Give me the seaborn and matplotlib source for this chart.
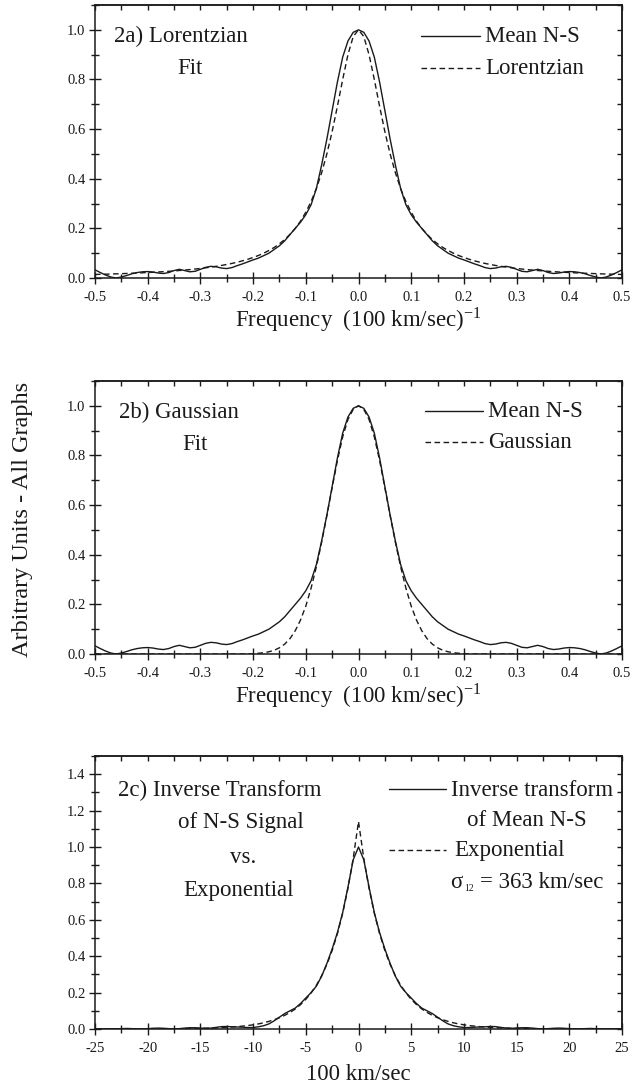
import numpy as np
import pandas as pd
import seaborn as sns
import matplotlib.pyplot as plt
from matplotlib.ticker import MultipleLocator, FormatStrFormatter

# ---- data (half curves, x >= 0; the spectra are symmetric about 0) ----
freq_half = np.round(np.arange(0, 0.51, 0.01), 2)

mean_ns = [1.0, .99, .955, .89, .79, .675, .56, .455, .36, .295, .255,
           .225, .20, .175, .15, .13, .115, .10, .09, .08, .073,
           .065, .057, .05, .042, .038, .04, .045, .047, .043, .035,
           .027, .025, .03, .035, .03, .022, .018, .02, .024, .026,
           .025, .022, .017, .01, .004, .0, .004, .012, .022, .033]

lorentzian = [1.0, .973, .900, .800, .692, .590, .500, .424, .360, .308, .265,
              .229, .200, .176, .155, .138, .123, .111, .100, .0907, .0826,
              .0755, .0692, .0637, .0588, .0545, .0506, .0471, .0439, .0411, .0385,
              .0361, .0340, .0320, .0302, .0285, .0270, .0256, .0243, .0231, .0220,
              .0210, .0200, .0191, .0183, .0175, .0167, .0160, .0154, .0148, .0142]

gaussian = [1.0, .986, .945, .875, .78, .67, .558, .45, .351, .265, .193,
            .137, .094, .062, .040, .025, .015, .009, .005, .003, .001,
            0, 0, 0, 0, 0, 0, 0, 0, 0, 0,
            0, 0, 0, 0, 0, 0, 0, 0, 0, 0,
            0, 0, 0, 0, 0, 0, 0, 0, 0, 0]

vel_half = np.arange(0, 25.5, 0.5)

inverse_ns = [1.0, .93, .78, .64, .53, .44, .36, .29, .235, .20, .17,
              .14, .115, .10, .085, .065, .045, .028, .018, .012, .008,
              .008, .010, .011, .012, .014, .013, .009, .005, .004, .005,
              .007, .007, .005, .002, .001, .002, .004, .005, .004, .002,
              .001, .001, .002, .003, .002, .001, .001, .001, .001, .001]

exponential = [1.14, .938, .773, .636, .524, .431, .355, .292, .240, .198, .163,
               .134, .110, .091, .075, .062, .051, .042, .034, .028, .023,
               .019, .016, .013, .011, .0088, .0072, .0059, .0049, .0040, .0033,
               .0027, .0022, .0018, .0015, .0012, .0010, .0008, .0007, .0005, .0005,
               .0004, .0003, .0003, .0002, .0002, .0002, .0001, .0001, .0001, .0001]


def mirror_x(h):
    h = np.asarray(h, dtype=float)
    return np.concatenate([-h[::-1], h[1:]])


def mirror_y(h):
    h = np.asarray(h, dtype=float)
    return np.concatenate([h[::-1], h[1:]])


sns.set_theme(style="ticks")
plt.rcParams['font.family'] = ['Liberation Serif', 'DejaVu Serif']
plt.rcParams['mathtext.fontset'] = 'stix'

W, H = 632, 1091
fig = plt.figure(figsize=(W / 100, H / 100), dpi=100)

DASH = (0, (4, 2.5))
TXT = 16.5
LW = 1.0


def panel(top_px):
    return fig.add_axes([95 / W, 1 - (top_px + 273) / H, 527 / W, 273 / H])


def style(ax, xlim, xmaj, xmin_, ylim, xfmt):
    ax.set_xlim(*xlim)
    ax.set_ylim(*ylim)
    ax.xaxis.set_major_locator(MultipleLocator(xmaj))
    ax.xaxis.set_minor_locator(MultipleLocator(xmin_))
    ax.yaxis.set_major_locator(MultipleLocator(0.2))
    ax.yaxis.set_minor_locator(MultipleLocator(0.1))
    ax.xaxis.set_major_formatter(FormatStrFormatter(xfmt))
    ax.yaxis.set_major_formatter(FormatStrFormatter('%.1f'))
    ax.tick_params(which='major', direction='inout', length=9, width=1.0,
                   labelsize=10.5, color='k', labelcolor='k')
    ax.tick_params(which='minor', direction='inout', length=5.5, width=1.0, color='k')
    ax.tick_params(axis='x', pad=5)
    ax.tick_params(axis='y', pad=2.5)
    for s in ax.spines.values():
        s.set_visible(True)
        s.set_linewidth(1.1)
        s.set_color('k')
    # top / right ticks point inward only
    secx = ax.secondary_xaxis('top')
    secx.xaxis.set_major_locator(MultipleLocator(xmin_))
    secx.tick_params(which='both', direction='in', length=3.5, width=1.0,
                     labeltop=False, labelbottom=False, color='k')
    secx.spines['top'].set_linewidth(1.1)
    secy = ax.secondary_yaxis('right')
    secy.yaxis.set_major_locator(MultipleLocator(0.1))
    secy.tick_params(which='both', direction='in', length=3.5, width=1.0,
                     labelright=False, labelleft=False, color='k')
    secy.spines['right'].set_linewidth(1.1)


def legend_line(ax, x0, x1, y, ls):
    ax.plot([x0, x1], [y, y], transform=ax.transAxes, color='k', lw=LW, ls=ls,
            clip_on=False)


def txt(ax, x, y, s, ha='left', size=TXT):
    ax.text(x, y, s, transform=ax.transAxes, ha=ha, va='center', fontsize=size, color='k')


freq_x = mirror_x(freq_half)
vel_x = mirror_x(vel_half)
FREQ_LABEL = r'Frequency  (100 km/sec)$^{\mathregular{-1}}$'

# ---- 2a ----
ax1 = panel(5)
sns.lineplot(x=freq_x, y=mirror_y(mean_ns), ax=ax1, color='k', lw=LW, sort=False)
sns.lineplot(x=freq_x, y=mirror_y(lorentzian), ax=ax1, color='k', lw=LW, ls=DASH, sort=False)
style(ax1, (-0.5, 0.5), 0.1, 0.05, (0, 1.1), '%.1f')
txt(ax1, 0.036, 0.883, '2a) Lorentzian')
txt(ax1, 0.180, 0.769, 'Fit', ha='center')
legend_line(ax1, 0.619, 0.731, 0.886, '-')
txt(ax1, 0.740, 0.883, 'Mean N-S')
legend_line(ax1, 0.619, 0.731, 0.770, DASH)
txt(ax1, 0.740, 0.767, 'Lorentzian')
ax1.set_xlabel(FREQ_LABEL, fontsize=TXT, color='k')
ax1.xaxis.set_label_coords(0.5, -0.154)
ax1.xaxis.label.set_va('center')
ax1.set_ylabel('')

# ---- 2b ----
ax2 = panel(381)
sns.lineplot(x=freq_x, y=mirror_y(mean_ns), ax=ax2, color='k', lw=LW, sort=False)
sns.lineplot(x=freq_x, y=mirror_y(gaussian), ax=ax2, color='k', lw=LW, ls=DASH, sort=False)
style(ax2, (-0.5, 0.5), 0.1, 0.05, (0, 1.1), '%.1f')
txt(ax2, 0.045, 0.886, '2b) Gaussian')
txt(ax2, 0.190, 0.769, 'Fit', ha='center')
legend_line(ax2, 0.626, 0.736, 0.89, '-')
txt(ax2, 0.746, 0.887, 'Mean N-S')
legend_line(ax2, 0.626, 0.736, 0.777, DASH)
txt(ax2, 0.746, 0.774, 'Gaussian')
ax2.set_xlabel(FREQ_LABEL, fontsize=TXT, color='k')
ax2.xaxis.set_label_coords(0.5, -0.154)
ax2.xaxis.label.set_va('center')
ax2.set_ylabel('Arbitrary Units - All Graphs', fontsize=17.5, color='k')
ax2.yaxis.set_label_coords(-0.1385, 0.4945)
ax2.yaxis.label.set_va('center')

# ---- 2c ----
ax3 = panel(756)
sns.lineplot(x=vel_x, y=mirror_y(inverse_ns), ax=ax3, color='k', lw=LW, sort=False)
sns.lineplot(x=vel_x, y=mirror_y(exponential), ax=ax3, color='k', lw=LW, ls=DASH, sort=False)
style(ax3, (-25, 25), 5, 2.5, (0, 1.5), '%d')
txt(ax3, 0.044, 0.875, '2c) Inverse Transform')
txt(ax3, 0.277, 0.758, 'of N-S Signal', ha='center')
txt(ax3, 0.281, 0.630, 'vs.', ha='center')
txt(ax3, 0.273, 0.509, 'Exponential', ha='center')
legend_line(ax3, 0.558, 0.666, 0.878, '-')
txt(ax3, 0.676, 0.875, 'Inverse transform')
txt(ax3, 0.820, 0.762, 'of Mean N-S', ha='center')
legend_line(ax3, 0.558, 0.666, 0.656, DASH)
txt(ax3, 0.681, 0.653, 'Exponential')
txt(ax3, 0.674, 0.538, 'σ')
txt(ax3, 0.700, 0.515, '12', size=7)
txt(ax3, 0.730, 0.538, '= 363 km/sec')
ax3.set_xlabel('100 km/sec', fontsize=TXT, color='k')
ax3.xaxis.set_label_coords(0.5, -0.168)
ax3.xaxis.label.set_va('center')
ax3.set_ylabel('')

fig.savefig('out.png', dpi=100)
